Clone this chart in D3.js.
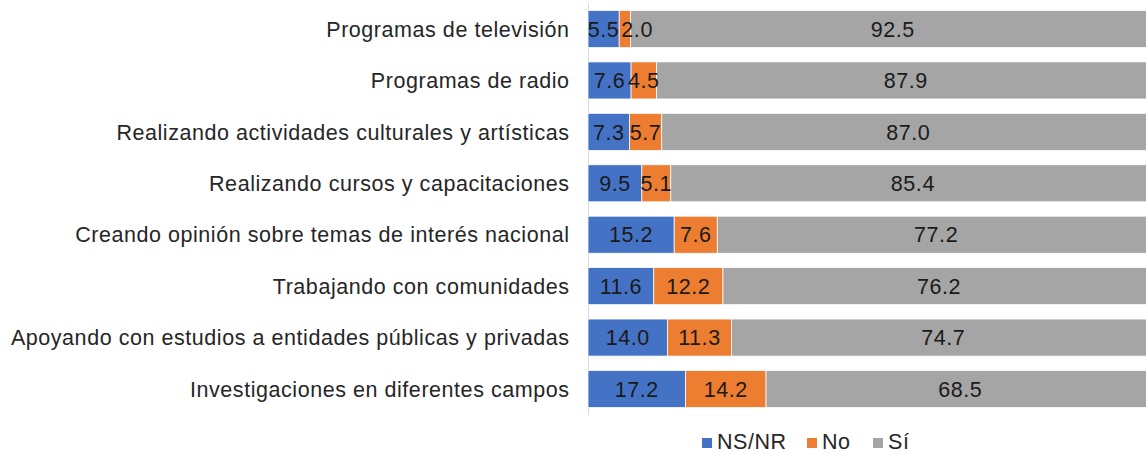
<!DOCTYPE html>
<html>
<head>
<meta charset="utf-8">
<script src="https://cdn.jsdelivr.net/npm/d3@7"></script>
<style>
  body { margin: 0; background: #fff; }
  svg { display: block; font-family: "Liberation Sans", Arial, sans-serif; }
</style>
</head>
<body>
<svg width="1146" height="453"></svg>
<script>
var width = 1146;
var height = 453;

// categories, top to bottom
var categories = [
  "Programas de televisión",
  "Programas de radio",
  "Realizando actividades culturales y artísticas",
  "Realizando cursos y capacitaciones",
  "Creando opinión sobre temas de interés nacional",
  "Trabajando con comunidades",
  "Apoyando con estudios a entidades públicas y privadas",
  "Investigaciones en diferentes campos"
];
var seriesNames = ["NS/NR", "No", "Sí"];
var nsnr = [5.5, 7.6, 7.3, 9.5, 15.2, 11.6, 14.0, 17.2];
var no   = [2.0, 4.5, 5.7, 5.1, 7.6, 12.2, 11.3, 14.2];
var si   = [92.5, 87.9, 87.0, 85.4, 77.2, 76.2, 74.7, 68.5];

var colors = ["#4472C4", "#ED7D31", "#A5A5A5"];
var fontSize = 21.5;
var spacing = 0.55;

var rows = categories.map(function(c, i) {
  return {name: c, "NS/NR": nsnr[i], "No": no[i], "Sí": si[i]};
});

var svg = d3.select("svg");

var x = d3.scaleLinear().domain([0, 100]).range([588, 1155]);
var y = d3.scaleBand().domain(categories).range([3.3, 414.7])
    .paddingInner(0.28).paddingOuter(0.14);

var layers = d3.stack().keys(seriesNames)(rows);

// vertical axis line
svg.append("line")
    .attr("x1", x(0) + 0.5).attr("x2", x(0) + 0.5)
    .attr("y1", 3).attr("y2", 415)
    .attr("stroke", "#d9d9d9")
    .attr("stroke-width", 1);

var layer = svg.selectAll("g.layer")
    .data(layers)
    .join("g")
    .attr("class", "layer")
    .attr("fill", (d, i) => colors[i]);

layer.selectAll("rect")
    .data(d => d)
    .join("rect")
    .attr("x", d => x(d[0]))
    .attr("y", d => y(d.data.name))
    .attr("width", d => x(d[1]) - x(d[0]))
    .attr("height", y.bandwidth())
    .attr("stroke", "#fff")
    .attr("stroke-width", 0.75);

// value labels
var valueLabels = svg.append("g");
categories.forEach(function(cat, i) {
  var lastRight = -Infinity;
  layers.forEach(function(l) {
    var seg = l[i];
    var t = valueLabels.append("text")
        .attr("y", y(cat) + y.bandwidth() / 2)
        .attr("dy", "0.36em")
        .attr("fill", "#1a1a1a")
        .attr("font-size", fontSize)
        .attr("letter-spacing", spacing)
        .text(seg.data[l.key].toFixed(1));
    var w = t.node().getComputedTextLength();
    var left = (x(seg[0]) + x(seg[1])) / 2 - w / 2;
    // nudge a label right when it would run into the one before it
    if (left < lastRight + 2) left = lastRight + 2;
    t.attr("x", left);
    lastRight = left + w;
  });
});

// category labels
svg.selectAll("text.cat")
    .data(categories)
    .join("text")
    .attr("class", "cat")
    .attr("x", 569 + spacing)
    .attr("y", d => y(d) + y.bandwidth() / 2)
    .attr("dy", "0.36em")
    .attr("text-anchor", "end")
    .attr("fill", "#262626")
    .attr("font-size", fontSize)
    .attr("letter-spacing", spacing)
    .text(d => d);

// legend
var legendX = [702, 807, 873];
var legend = svg.selectAll("g.legend")
    .data(seriesNames)
    .join("g")
    .attr("class", "legend")
    .attr("transform", (d, i) => "translate(" + legendX[i] + ",438)");

legend.append("rect")
    .attr("width", 10).attr("height", 10)
    .attr("fill", (d, i) => colors[i]);

legend.append("text")
    .attr("x", 15)
    .attr("y", 3)
    .attr("dy", "0.36em")
    .attr("fill", "#262626")
    .attr("font-size", fontSize)
    .attr("letter-spacing", spacing)
    .text(d => d);
</script>
</body>
</html>
